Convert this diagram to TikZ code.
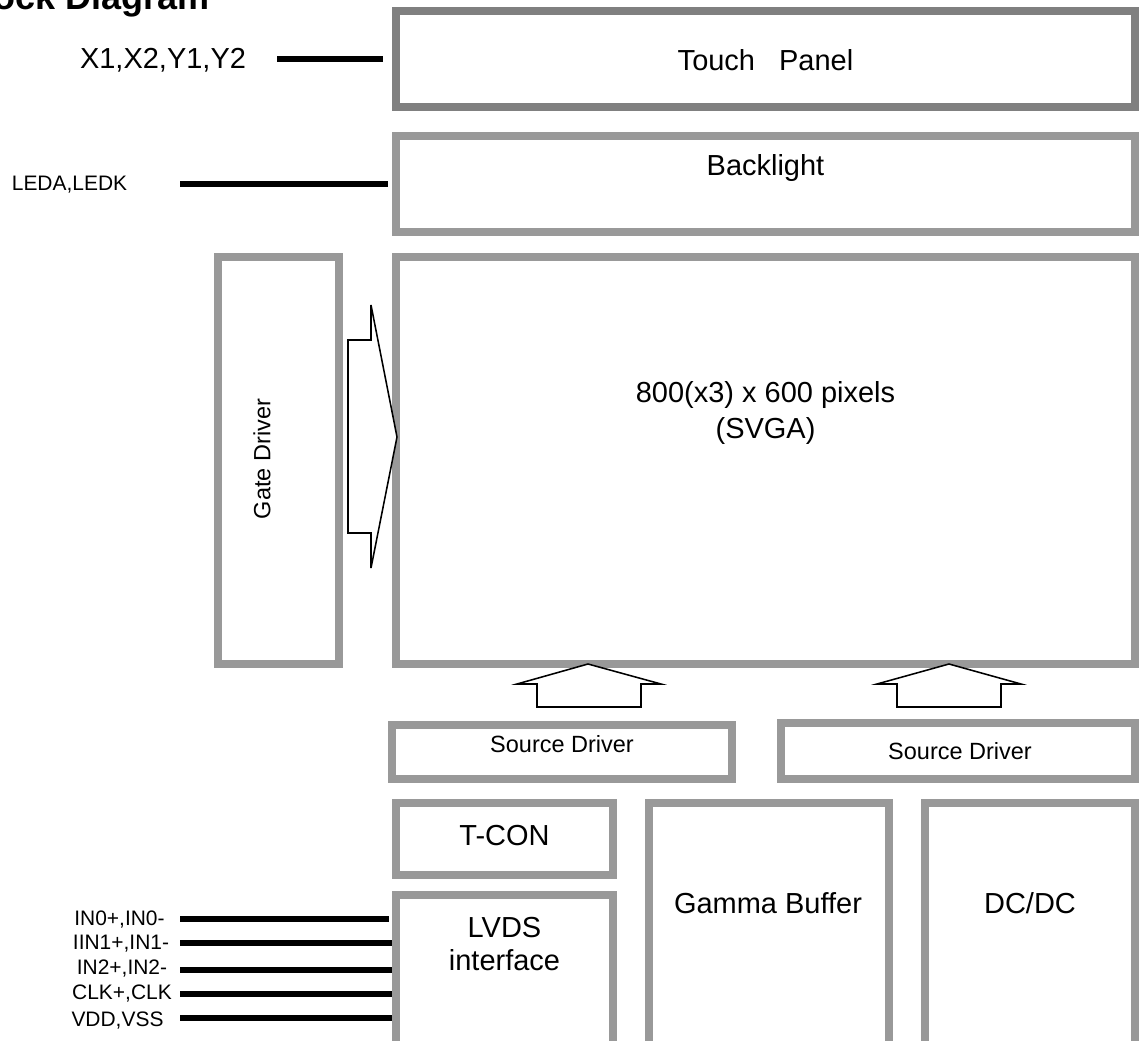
\documentclass[tikz,border=0pt]{standalone}
\usepackage{fontspec}
\setmainfont{Liberation Sans}
\usetikzlibrary{arrows.meta,positioning,calc}
\definecolor{lcdgray}{RGB}{153,153,153}
\definecolor{lcddark}{RGB}{128,128,128}
\newcommand{\pxu}[1]{#1*0.025cm}
\tikzset{
  blockbox/.style 2 args={draw=lcdgray, line width=5.7pt, fill=white, inner sep=0pt, minimum width=\pxu{#1}, minimum height=\pxu{#2}},
  bigtxt/.style={font=\fontsize{20.6}{24}\selectfont, inner sep=0pt, align=center},
  midtxt/.style={font=\fontsize{16.7}{20}\selectfont, inner sep=0pt},
  pintxt/.style={font=\fontsize{14.9}{17}\selectfont, inner sep=0pt},
  sigline/.style={line width=4.3pt},
  hollowarrow/.style={draw=black, line width=1.1pt, fill=white, line join=miter}
}
\begin{document}
\begin{tikzpicture}[x=0.025cm, y=-0.025cm]
  \path[use as bounding box, clip] (0,0) rectangle (1140,1041);

  %% Title (cut at the page edge)
  \node[font=\bfseries\fontsize{25.6}{30}\selectfont, anchor=base east, inner sep=0pt] (title) at (210,9) {Block Diagram};

  %% Panel stack
  \node[blockbox={739}{96}, draw=lcddark] (touch) at (765.5,59) {};
  \node[bigtxt] (touchtxt) at (765.5,60) {Touch\ \ \ Panel};
  \node[blockbox={739}{96}] (backlight) at (765.5,184) {};
  \node[bigtxt] (bltxt) at (765.5,168) {Backlight};
  \node[blockbox={739}{407}] (panel) at (765.5,460.5) {};
  \node[bigtxt, text depth=0pt] (paneltxt) at (765.5,410) {800(x3) x 600 pixels\\[1pt](SVGA)};

  %% Gate driver
  \node[blockbox={121}{407}] (gate) at (278.5,460.5) {};
  \node[midtxt, rotate=90] (gatetxt) at (262,459) {Gate Driver};

  %% Source drivers
  \node[blockbox={340}{54}] (sdleft) at (562,752) {};
  \node[midtxt] (sdlefttxt) at (562,744) {Source Driver};
  \node[blockbox={354}{56}] (sdright) at (958,751) {};
  \node[midtxt] (sdrighttxt) at (960,751) {Source Driver};

  %% Bottom row
  \node[blockbox={217}{72}] (tcon) at (504.5,839) {};
  \node[bigtxt] (tcontxt) at (504.5,836) {T-CON};
  \node[blockbox={217}{161}] (lvds) at (504.5,975.5) {};
  \node[bigtxt] (lvdstxt) at (504.5,944) {LVDS\\[-1pt]interface};
  \node[blockbox={240}{253}] (gamma) at (769,929.5) {};
  \node[bigtxt] (gammatxt) at (768,903) {Gamma Buffer};
  \node[blockbox={210}{253}] (dcdc) at (1030,929.5) {};
  \node[bigtxt] (dcdctxt) at (1030,903) {DC/DC};

  %% Hollow arrows
  \draw[hollowarrow] (348,340) -- (371,340) -- (371,305) -- (397,437) -- (371,568) -- (371,533) -- (348,533) -- cycle;
  \draw[hollowarrow] (588,664) -- (661,684) -- (641,684) -- (641,707) -- (537,707) -- (537,684) -- (517,684) -- cycle;
  \draw[hollowarrow] (949,664) -- (1021,684) -- (1001,684) -- (1001,707) -- (897,707) -- (897,684) -- (877,684) -- cycle;

  %% Signal lines
  \node[bigtxt] (xylbl) at (163,60) {X1,X2,Y1,Y2};
  \coordinate (xyend) at (277,59);
  \draw[sigline, shorten >=\pxu{9}] (xyend) -- (xyend -| touch.west);

  \node[pintxt] (ledlbl) at (69.5,185) {LEDA,LEDK};
  \coordinate (ledend) at (180,184);
  \draw[sigline, shorten >=\pxu{4}] (ledend) -- (ledend -| backlight.west);

  \node[pintxt] (in0lbl) at (119.5,920) {IN0+,IN0-};
  \node[pintxt] (in1lbl) at (121,944) {IIN1+,IN1-};
  \node[pintxt] (in2lbl) at (122,969) {IN2+,IN2-};
  \node[pintxt] (clklbl) at (122,994) {CLK+,CLK};
  \node[pintxt] (vddlbl) at (117.5,1021) {VDD,VSS};
  \coordinate (in0end) at (180,919);
  \coordinate (in1end) at (180,943);
  \coordinate (in2end) at (180,970);
  \coordinate (clkend) at (180,994);
  \coordinate (vddend) at (180,1018);
  \draw[sigline, shorten >=\pxu{3}] (in0end) -- (in0end -| lvds.west);
  \foreach \pin in {in1end,in2end,clkend,vddend}
    \draw[sigline] (\pin) -- (\pin -| lvds.west);
\end{tikzpicture}
\end{document}
